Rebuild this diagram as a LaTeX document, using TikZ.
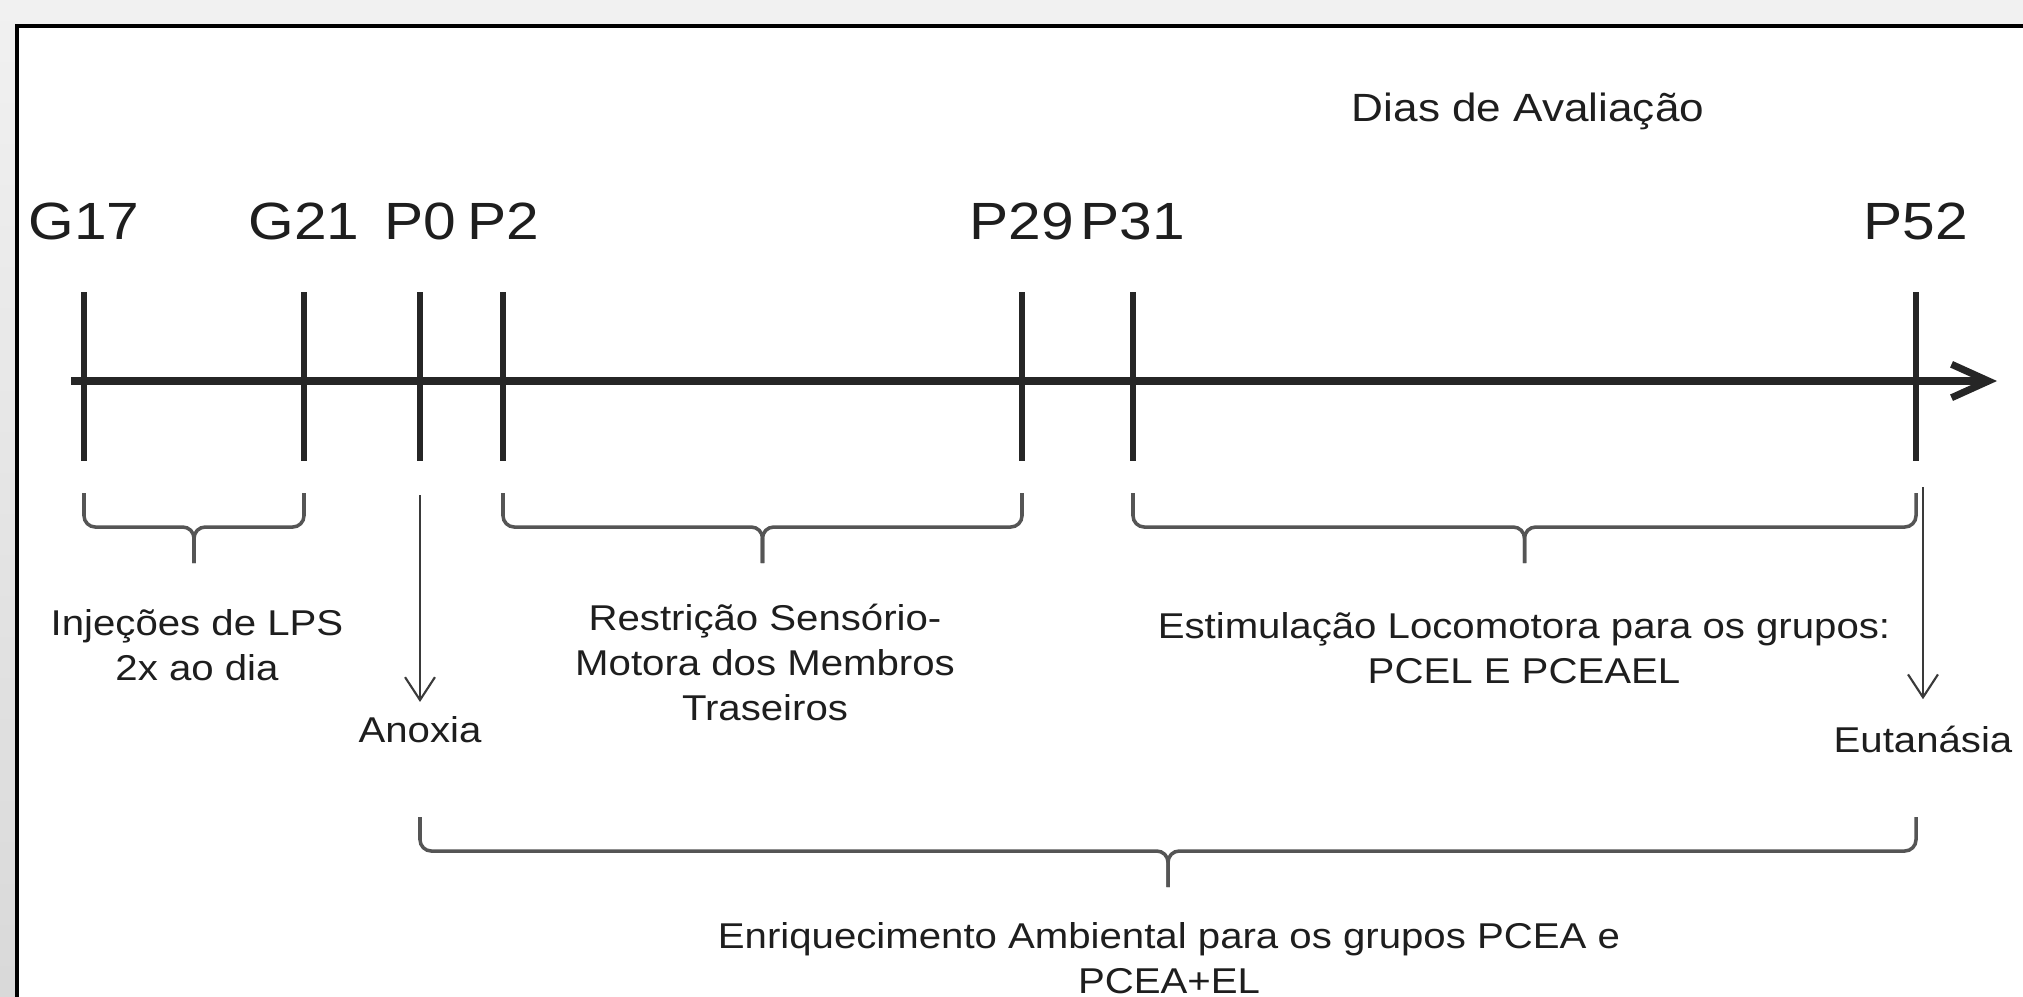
\documentclass[tikz,border=0pt]{standalone}
\usepackage{fontspec}
\setmainfont{Liberation Sans}[FakeStretch=1.12]
\usetikzlibrary{arrows.meta,calc}

\definecolor{axiscol}{HTML}{262626}
\definecolor{bracecol}{HTML}{555555}
\definecolor{arrowcol}{HTML}{3A3A3A}
\definecolor{textcol}{HTML}{1E1E1E}
\definecolor{bggray}{HTML}{F1F1F1}

\begin{document}
\begin{tikzpicture}[
  x=0.01cm, y=-0.01cm,
  axisline/.style={draw=axiscol,line width=2pt,-{Straight Barb[length=10.5pt,width=9.5pt]}},
  tickline/.style={draw=axiscol,line width=1.7pt},
  braceline/.style={draw=bracecol,line width=1pt,rounded corners=3.2pt},
  eventarrow/.style={draw=arrowcol,line width=0.6pt,-{Straight Barb[length=6.5pt,width=8.5pt]}},
  daylabel/.style={font=\fontsize{14.9}{18}\selectfont,anchor=base,inner sep=0pt,text=textcol},
  phaselabel/.style={font=\fontsize{10.2}{12.7}\selectfont,align=center,anchor=base,inner sep=0pt,text=textcol}
  ]

\useasboundingbox (0,0) rectangle (2023,996);
\clip (0,0) rectangle (2023,996);

% frame
\fill[bggray] (0,0) rectangle (2023,996);
\shade[top color=bggray,bottom color=black!15] (0,0) rectangle (17,996);
\draw[fill=white,line width=0.9pt] (17,26) rectangle (2040,1010);

\node[font=\fontsize{11.2}{13}\selectfont,anchor=base,inner sep=0pt,text=textcol] (dias) at (1528,121) {Dias de Avaliação};

% time axis
\coordinate (axstart) at (71,381);
\coordinate (axend) at (1997,381);
\draw[axisline] (axstart) -- (axend);

\foreach \day/\x in {G17/84,G21/304,P0/420,P2/503,P29/1022,P31/1133,P52/1916}{
  \coordinate (t\day) at (\x,381);
  \draw[tickline] (\x,292) -- (\x,461);
  \node[daylabel] (l\day) at (\x,239) {\day};
}

% braces under the axis
\foreach \a/\b/\top/\name in {G17/G21/493/lps,P2/P29/493/rest,P31/P52/493/est,P0/P52/817/enr}{
  \coordinate (\name-l) at (t\a |- 0,\top);
  \coordinate (\name-r) at (t\b |- 0,\top);
  \coordinate (\name-m) at ($(\name-l)!0.5!(\name-r)+(0,34)$);
  \coordinate (\name-tip) at ($(\name-m)+(0,36)$);
  \draw[braceline] (\name-l) |- (\name-m) -- (\name-tip);
  \draw[braceline] (\name-r) |- (\name-m) -- (\name-tip);
}

% base of a multi-line label = baseline of its last line
\node[phaselabel] (lps) at (197,680) {Injeções de LPS\\2x ao dia};
\node[phaselabel] (rest) at (765,720) {Restrição Sensório-\\Motora dos Membros\\Traseiros};
\node[phaselabel] (est) at (1524,683) {Estimulação Locomotora para os grupos:\\PCEL E PCEAEL};
\node[phaselabel] (enr) at (1169,993) {Enriquecimento Ambiental para os grupos PCEA e\\PCEA+EL};

% single events
\coordinate (anox-start) at (420,495);
\coordinate (eut-start) at (1923,487);
\node[phaselabel,outer sep=4pt] (anox) at (420,742) {Anoxia};
\node[phaselabel,outer sep=7.5pt] (eut) at (1923,752) {Eutanásia};
\draw[eventarrow] (anox-start) -- (anox.north);
\draw[eventarrow] (eut-start) -- (eut.north);

\end{tikzpicture}
\end{document}
